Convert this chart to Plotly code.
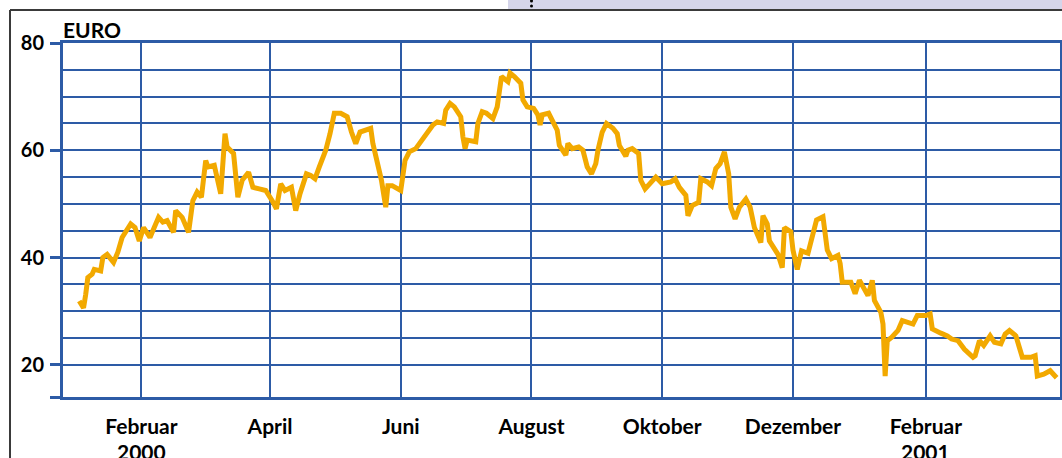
import plotly.graph_objects as go

# ---------------- data ----------------
dates = [
    "2000-01-03", "2000-01-05", "2000-01-06", "2000-01-07", "2000-01-09", "2000-01-10", "2000-01-13", "2000-01-14",
    "2000-01-16", "2000-01-19", "2000-01-21", "2000-01-23", "2000-01-27", "2000-01-29", "2000-01-31",
    "2000-02-02", "2000-02-05", "2000-02-09", "2000-02-11", "2000-02-13", "2000-02-16", "2000-02-17", "2000-02-20",
    "2000-02-23", "2000-02-25", "2000-02-27", "2000-02-29",
    "2000-03-02", "2000-03-03", "2000-03-06", "2000-03-09", "2000-03-11", "2000-03-12", "2000-03-15", "2000-03-17",
    "2000-03-19", "2000-03-22", "2000-03-24", "2000-03-27", "2000-03-30",
    "2000-04-02", "2000-04-04", "2000-04-06", "2000-04-08", "2000-04-11", "2000-04-13", "2000-04-15", "2000-04-18",
    "2000-04-20", "2000-04-22", "2000-04-24", "2000-04-27", "2000-04-29",
    "2000-05-01", "2000-05-04", "2000-05-07", "2000-05-09", "2000-05-11", "2000-05-13", "2000-05-15", "2000-05-18",
    "2000-05-19", "2000-05-21", "2000-05-23", "2000-05-25", "2000-05-26", "2000-05-28",
    "2000-06-01", "2000-06-03", "2000-06-05", "2000-06-08", "2000-06-11", "2000-06-14", "2000-06-16", "2000-06-18",
    "2000-06-21", "2000-06-22", "2000-06-24", "2000-06-26", "2000-06-29", "2000-06-30",
    "2000-07-01", "2000-07-02", "2000-07-06", "2000-07-07", "2000-07-09", "2000-07-11", "2000-07-14", "2000-07-16",
    "2000-07-17", "2000-07-18", "2000-07-21", "2000-07-22", "2000-07-24", "2000-07-27", "2000-07-28", "2000-07-30",
    "2000-08-02", "2000-08-04", "2000-08-05", "2000-08-06", "2000-08-09", "2000-08-11", "2000-08-13", "2000-08-14",
    "2000-08-17", "2000-08-18", "2000-08-20", "2000-08-23", "2000-08-25", "2000-08-27", "2000-08-29", "2000-08-31",
    "2000-09-01", "2000-09-03", "2000-09-05", "2000-09-08", "2000-09-10", "2000-09-11", "2000-09-14", "2000-09-15",
    "2000-09-17", "2000-09-20", "2000-09-21", "2000-09-23", "2000-09-25", "2000-09-28",
    "2000-10-01", "2000-10-05", "2000-10-07", "2000-10-09", "2000-10-12", "2000-10-13", "2000-10-15", "2000-10-18",
    "2000-10-19", "2000-10-22", "2000-10-24", "2000-10-26", "2000-10-28", "2000-10-30",
    "2000-11-01", "2000-11-02", "2000-11-04", "2000-11-06", "2000-11-09", "2000-11-11", "2000-11-13", "2000-11-16",
    "2000-11-17", "2000-11-19", "2000-11-20", "2000-11-24", "2000-11-26", "2000-11-27", "2000-11-30",
    "2000-12-01", "2000-12-03", "2000-12-05", "2000-12-08", "2000-12-10", "2000-12-12", "2000-12-15", "2000-12-16",
    "2000-12-17", "2000-12-19", "2000-12-22", "2000-12-23", "2000-12-24", "2000-12-28", "2000-12-30",
    "2001-01-01", "2001-01-04", "2001-01-05", "2001-01-07", "2001-01-08", "2001-01-11", "2001-01-12", "2001-01-13",
    "2001-01-14", "2001-01-16", "2001-01-19", "2001-01-21", "2001-01-24", "2001-01-26", "2001-01-28",
    "2001-02-01", "2001-02-03", "2001-02-04", "2001-02-08", "2001-02-11", "2001-02-13", "2001-02-16", "2001-02-19",
    "2001-02-23", "2001-02-24", "2001-02-26", "2001-02-28",
    "2001-03-03", "2001-03-05", "2001-03-08", "2001-03-10", "2001-03-12", "2001-03-15", "2001-03-17", "2001-03-18",
    "2001-03-22", "2001-03-24", "2001-03-25", "2001-03-28", "2001-03-31", "2001-04-03",
]

prices = [
    31.9, 30.6, 33.1, 36.25, 36.9, 37.8, 37.5, 40, 40.6, 39.1, 41, 43.75, 46.25, 45.6, 43.1,
    45.6, 43.75, 47.5, 46.6, 46.9, 44.7, 48.75, 47.5, 44.7, 50.6, 52.2, 51.25,
    58.1, 56.9, 57.2, 51.9, 63.1, 60.6, 59.4, 51.25, 54.4, 55.9, 53.1, 52.8, 52.5,
    50.6, 49.1, 53.75, 52.5, 53.1, 48.75, 51.9, 55.6, 55.3, 54.7, 56.9, 60, 63.1,
    66.9, 66.9, 66.25, 63.4, 61.25, 63.4, 63.75, 64.1, 61.25, 57.5, 54.4, 49.4, 53.4, 53.4,
    52.5, 58.1, 59.7, 60.3, 61.9, 63.4, 64.7, 65.3, 65, 67.5, 68.75, 68.1, 66.25, 62.5,
    60.3, 61.9, 61.6, 65, 67.2, 66.9, 65.9, 68.1, 71.9, 73.75, 72.8, 74.4, 73.75, 72.5, 69.4, 68.1,
    67.8, 66.6, 64.7, 66.6, 66.9, 65.3, 63.75, 60.9, 59.1, 61.25, 60.3, 60.6, 60, 56.9, 55.6, 57.5,
    60, 63.4, 65, 64.1, 63.1, 60.9, 58.9, 60, 60.3, 59.4, 54.4, 52.8, 53.75, 55,
    53.75, 54.1, 54.7, 53.1, 51.6, 47.8, 49.7, 50.3, 54.7, 54.1, 53.4, 56.6, 57.5, 59.7,
    55.6, 49.4, 47.2, 49.4, 50.9, 49.4, 45.6, 42.8, 47.8, 46.25, 43.1, 40.6, 38.1, 45.6, 44.8,
    41.4, 37.8, 41.25, 40.8, 43.9, 47, 47.6, 45.1, 41.4, 39.8, 40.4, 38.9, 35.4, 35.4, 33.25,
    35.75, 33.9, 32.9, 35.75, 32, 29.8, 27.6, 17.9, 24.5, 25.1, 26.4, 28.25, 27.9, 27.6, 29.2,
    29.2, 29.5, 26.7, 25.9, 25.4, 24.8, 24.5, 22.9, 21.4, 21.7, 24.5, 23.6,
    25.4, 24.2, 23.9, 25.75, 26.4, 25.4, 22.9, 21.4, 21.4, 21.7, 17.9, 18.25, 18.9, 17.6,
]

month_ticks = ["2000-02-01", "2000-04-01", "2000-06-01", "2000-08-01",
               "2000-10-01", "2000-12-01", "2001-02-01"]
month_labels = ["Februar", "April", "Juni", "August",
                "Oktober", "Dezember", "Februar"]
year_ticks = ["2000-02-01", "2001-02-01"]
year_labels = ["2000", "2001"]
y_ticks = [14, 20, 40, 60, 80]
y_labels = ["", "20", "40", "60", "80"]
y_minor_grid = [25, 30, 35, 45, 50, 55, 65, 70, 75]
unit_label = "EURO"

# ---------------- styling ----------------
W, H = 1062, 458
ML, MR, MT, MB = 63, 2, 43, 61
PW, PH = W - ML - MR, H - MT - MB
BLUE = "#2d5ba6"
GOLD = "#f2a900"
FONT = "Lato"


def px(x):
    return (x - ML) / PW


def py(y):
    return (H - MB - y) / PH


fig = go.Figure()
fig.add_trace(go.Scatter(
    x=dates, y=prices, mode="lines",
    line=dict(color=GOLD, width=5), hoverinfo="skip", showlegend=False,
))

fig.update_xaxes(
    type="date",
    range=["1999-12-26 10:00", "2001-04-04 14:00"],
    tickmode="array", tickvals=month_ticks,
    ticktext=["<b>" + t + "</b>" for t in month_labels],
    ticks="", showgrid=True, gridcolor=BLUE, gridwidth=2,
    showline=True, linecolor=BLUE, linewidth=3, mirror=True,
    zeroline=False,
    tickfont=dict(family=FONT, size=21, color="black"),
    ticklabelstandoff=9,
)
fig.update_yaxes(
    range=[14, 80],
    tickmode="array", tickvals=y_ticks,
    ticktext=["<b>" + t + "</b>" if t else "" for t in y_labels],
    ticks="outside", ticklen=10, tickwidth=3, tickcolor=BLUE,
    showgrid=True, gridcolor=BLUE, gridwidth=2,
    minor=dict(tickmode="array", tickvals=y_minor_grid, showgrid=True,
               gridcolor=BLUE, gridwidth=2, ticks=""),
    showline=True, linecolor=BLUE, linewidth=3, mirror=True,
    zeroline=False,
    tickfont=dict(family=FONT, size=20, color="black"),
    ticklabelstandoff=2,
)

shapes = [
    # grey header strip top right
    dict(type="rect", xref="paper", yref="paper", x0=px(508), x1=px(W), y0=py(9), y1=py(0),
         fillcolor="#d5d5ea", line=dict(width=0), layer="below"),
    # page frame
    dict(type="line", xref="paper", yref="paper", x0=px(10), x1=px(W), y0=py(10), y1=py(10),
         line=dict(color="#3a3a3a", width=2)),
    dict(type="line", xref="paper", yref="paper", x0=px(10), x1=px(10), y0=py(10), y1=py(H),
         line=dict(color="#3a3a3a", width=2)),
]
for dy in (1, 6):
    shapes.append(dict(type="circle", xref="paper", yref="paper",
                       x0=px(530), x1=px(533), y0=py(dy + 1.5), y1=py(dy - 1.5),
                       fillcolor="black", line=dict(width=0)))

annotations = [dict(
    text="<b>" + unit_label + "</b>", xref="paper", yref="paper",
    x=px(61), y=py(29), xanchor="left", yanchor="middle", showarrow=False,
    font=dict(family=FONT, size=21, color="black"),
)]
for xv, lab in zip(year_ticks, year_labels):
    annotations.append(dict(
        text="<b>" + lab + "</b>", xref="x", yref="paper",
        x=xv, y=py(451), xanchor="center", yanchor="middle", showarrow=False,
        font=dict(family=FONT, size=21, color="black"),
    ))

fig.update_layout(
    width=W, height=H,
    margin=dict(l=ML, r=MR, t=MT, b=MB, autoexpand=False),
    paper_bgcolor="white", plot_bgcolor="white",
    shapes=shapes,
    annotations=annotations,
)

fig.write_html("out.html",
               config={"displayModeBar": False, "staticPlot": True},
               post_script="document.body.style.margin='0';document.body.style.overflow='hidden';")
